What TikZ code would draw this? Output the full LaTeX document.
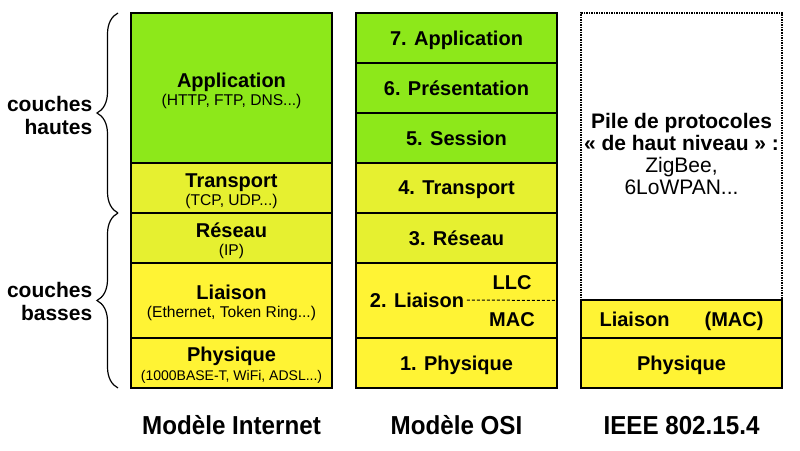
\documentclass[tikz,border=0pt]{standalone}
\usepackage{fontspec}
\setmainfont{Liberation Sans}
\usetikzlibrary{positioning,decorations.pathreplacing}
\definecolor{hautvert}{RGB}{141,232,26}
\definecolor{milieu}{RGB}{230,240,48}
\definecolor{basjaune}{RGB}{255,243,52}
\newcommand{\detail}[1]{{\fontsize{15.6}{17}\selectfont\mdseries #1}}
\newcommand{\petitdetail}[1]{{\fontsize{14}{16}\selectfont\mdseries #1}}
\newcommand{\haut}{\rule{0pt}{16pt}}

\begin{document}
\begin{tikzpicture}[x=1pt,y=-1pt,node distance=0pt,line width=1.5pt]
\tikzstyle{layer}=[draw=black,minimum width=201pt,inner sep=0pt,outer sep=0pt,text depth=0pt,align=center,font=\fontsize{20}{20}\selectfont\bfseries]
\tikzstyle{nom}=[font=\fontsize{20}{23}\selectfont\bfseries]
\tikzstyle{titre}=[font=\fontsize{26}{26}\selectfont\bfseries,inner sep=0pt]
\useasboundingbox (0,0) rectangle (800,450);
% modele internet
\node[layer,fill=hautvert,minimum height=150pt,anchor=north west] (app) at (131,13) {\haut Application\\[-2pt]\detail{(HTTP, FTP, DNS...)}};
\node[layer,fill=milieu,minimum height=50pt][below=of app](tra){\haut Transport\\[-2pt]\detail{(TCP, UDP...)}};
\node[layer,fill=milieu,minimum height=50pt][below=of tra](res){\haut R\'eseau\\[-2pt]\detail{(IP)}};
\node[layer,fill=basjaune,minimum height=75pt][below=of res](lia){\haut Liaison\\[-2pt]\detail{(Ethernet, Token Ring...)}};
\node[layer,fill=basjaune,minimum height=50pt][below=of lia](phy){\haut Physique\\[-1pt]\petitdetail{(1000BASE-T, WiFi, ADSL...)}};
% modele OSI
\node[layer,fill=hautvert,minimum height=50pt,anchor=north west] (osi7) at (356,13) {7. Application};
\node[layer,fill=hautvert,minimum height=50pt][below=of osi7](osi6){6. Pr\'esentation};
\node[layer,fill=hautvert,minimum height=50pt][below=of osi6](osi5){5. Session};
\node[layer,fill=milieu,minimum height=50pt][below=of osi5](osi4){4. Transport};
\node[layer,fill=milieu,minimum height=50pt][below=of osi4](osi3){3. R\'eseau};
\node[layer,fill=basjaune,minimum height=75pt][below=of osi3](osi2){};
\node[layer,fill=basjaune,minimum height=50pt][below=of osi2](osi1){1. Physique};
\node[nom,inner sep=2pt,text depth=0pt] (liaisontxt) at (417,300) {2. Liaison};
\node[nom,text depth=0pt] (llc) at (512,283) {LLC};
\node[nom,text depth=0pt] (mac) at (512,320) {MAC};
\draw[line width=1pt,densely dashed] (liaisontxt.east) -- (osi2.east);
% IEEE 802.15.4
\node[layer,densely dotted,minimum height=287pt,anchor=north west,text depth=4.3pt,font=\fontsize{21}{22}\selectfont] (pile) at (581,13) {\textbf{Pile de protocoles}\\\textbf{« de haut niveau » :}\\ZigBee,\\6LoWPAN...};
\node[layer,fill=basjaune,minimum height=38pt][below=of pile](mac3){Liaison\hspace{35pt}(MAC)};
\node[layer,fill=basjaune,minimum height=50pt][below=of mac3](phy3){Physique};
% accolades
\draw[line width=1.2pt,decorate,decoration={brace,amplitude=21pt}] ([xshift=-13pt]tra.south west) -- ([xshift=-13pt]app.north west);
\draw[line width=1.2pt,decorate,decoration={brace,amplitude=21pt}] ([xshift=-13pt]phy.south west) -- ([xshift=-13pt]res.north west);
\node[nom,font=\fontsize{21}{23}\selectfont\bfseries,align=right,anchor=east,inner sep=1pt] (hautes) at (94,115) {couches\\hautes};
\node[nom,font=\fontsize{21}{23}\selectfont\bfseries,align=right,anchor=east,inner sep=1pt] (basses) at (94,301) {couches\\basses};
% titres
\node[titre][below=46pt of phy,anchor=base] (titreinternet) {\scalebox{.93}[1]{Mod\`ele Internet}};
\node[titre][below=46pt of osi1,anchor=base] (titreosi) {\scalebox{.93}[1]{Mod\`ele OSI}};
\node[titre][below=46pt of phy3,anchor=base] (titreieee) {\scalebox{.93}[1]{IEEE 802.15.4}};
\end{tikzpicture}
\end{document}
